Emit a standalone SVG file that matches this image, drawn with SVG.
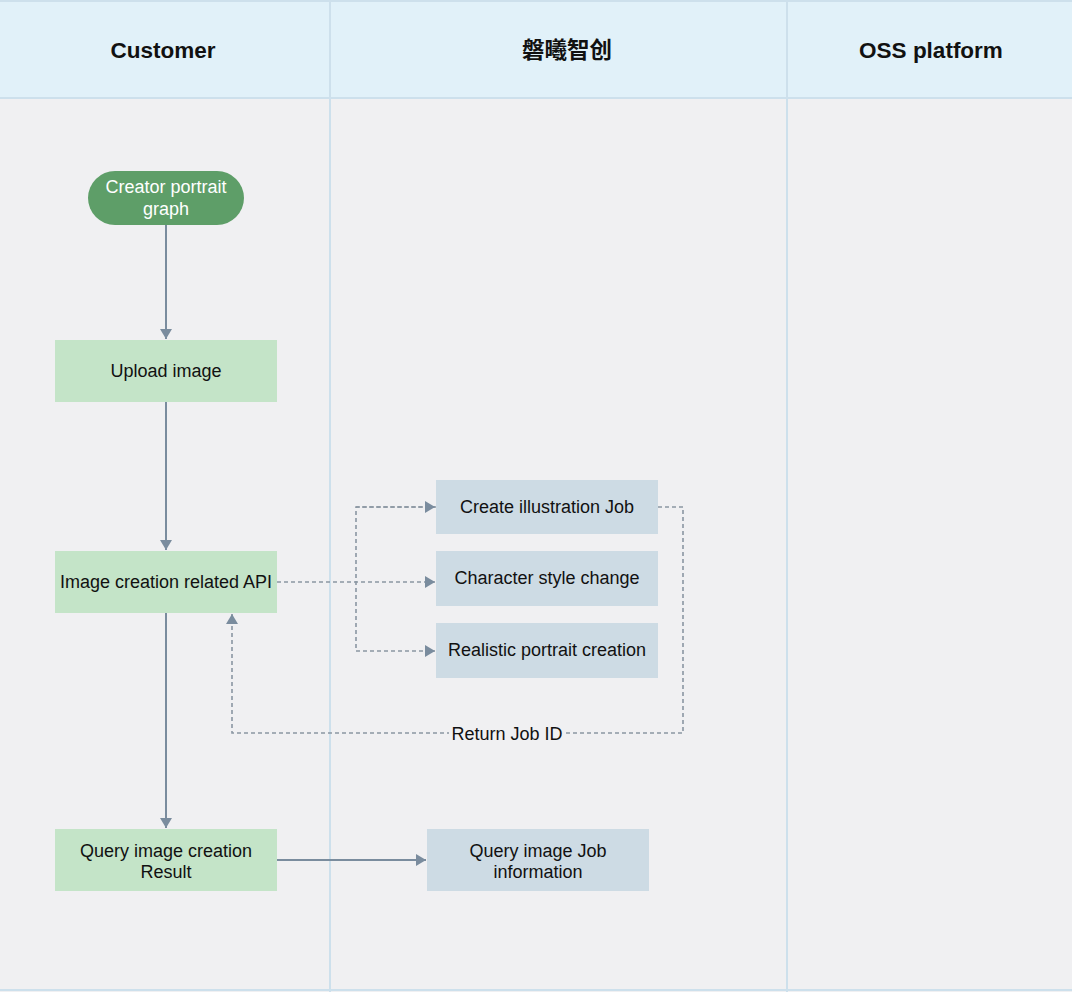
<svg xmlns="http://www.w3.org/2000/svg" width="1072" height="992" viewBox="0 0 1072 992">
<defs>
<style>
.lane{fill:#f0f0f2}
.hdr{fill:#e1f1f9}
.div{stroke:#cde0ec;stroke-width:2;fill:none}
.ht{font-family:"Liberation Sans",Arial,"Noto Sans CJK SC",sans-serif;font-size:22.5px;font-weight:bold;fill:#111;text-anchor:middle}
.t{font-family:"Liberation Sans",Arial,sans-serif;font-size:18px;fill:#111;text-anchor:middle}
.tw{fill:#fff}
.g{fill:#c4e4c8}
.b{fill:#cddbe4}
.s{stroke:#7a8c9e;stroke-width:2;fill:none}
.d{stroke:#8a96a2;stroke-width:1.6;fill:none;stroke-dasharray:4 3}
</style>
<marker id="ah" viewBox="0 0 10 10" refX="10" refY="5" markerWidth="10" markerHeight="12" markerUnits="userSpaceOnUse" orient="auto" preserveAspectRatio="none">
<path d="M0,0 L10,5 L0,10 z" fill="#7a8c9e"/>
</marker>
</defs>
<rect class="lane" x="0" y="0" width="1072" height="992"/>
<rect class="hdr" x="0" y="0" width="1072" height="98"/>
<line class="div" x1="0" y1="98" x2="1072" y2="98"/>
<line class="div" x1="0" y1="1" x2="1072" y2="1"/>
<line class="div" x1="0" y1="990" x2="1072" y2="990"/>
<line class="div" x1="330" y1="0" x2="330" y2="992"/>
<line class="div" x1="787" y1="0" x2="787" y2="992"/>
<g id="lane-headers">
<text class="ht" x="163" y="58">Customer</text>
<text class="ht" x="567" y="58">磐曦智创</text>
<text class="ht" x="931" y="58">OSS platform</text>
</g>
<g id="connectors">
<line class="s" x1="166" y1="225" x2="166" y2="339" marker-end="url(#ah)"/>
<line class="s" x1="166" y1="402" x2="166" y2="550" marker-end="url(#ah)"/>
<line class="s" x1="166" y1="613" x2="166" y2="828" marker-end="url(#ah)"/>
<line class="s" x1="277" y1="860" x2="426" y2="860" marker-end="url(#ah)"/>
<line class="d" x1="277" y1="582" x2="435" y2="582" marker-end="url(#ah)"/>
<polyline class="d" points="436,507 356,507 356,651 435,651" marker-end="url(#ah)"/>
<line class="d" x1="356" y1="507" x2="435" y2="507" marker-end="url(#ah)"/>
<polyline class="d" points="658,507 683,507 683,733 232,733 232,614" marker-end="url(#ah)"/>
<rect x="449" y="722" width="116" height="22" fill="#f0f0f2"/>
<text class="t" x="507" y="740">Return Job ID</text>
</g>
<g id="n-creator">
<rect x="88" y="171" width="156" height="54" rx="27" fill="#5e9e68"/>
<text class="t tw" x="166" y="193">Creator portrait</text>
<text class="t tw" x="166" y="215">graph</text>
</g>
<g id="n-upload">
<rect class="g" x="55" y="340" width="222" height="62"/>
<text class="t" x="166" y="377">Upload image</text>
</g>
<g id="n-api">
<rect class="g" x="55" y="551" width="222" height="62"/>
<text class="t" x="166" y="588">Image creation related API</text>
</g>
<g id="n-query">
<rect class="g" x="55" y="829" width="222" height="62"/>
<text class="t" x="166" y="857">Query image creation</text>
<text class="t" x="166" y="878">Result</text>
</g>
<g id="n-illus">
<rect class="b" x="436" y="480" width="222" height="54"/>
<text class="t" x="547" y="513">Create illustration Job</text>
</g>
<g id="n-style">
<rect class="b" x="436" y="551" width="222" height="55"/>
<text class="t" x="547" y="584">Character style change</text>
</g>
<g id="n-real">
<rect class="b" x="436" y="623" width="222" height="55"/>
<text class="t" x="547" y="656">Realistic portrait creation</text>
</g>
<g id="n-jobinfo">
<rect class="b" x="427" y="829" width="222" height="62"/>
<text class="t" x="538" y="857">Query image Job</text>
<text class="t" x="538" y="878">information</text>
</g>
</svg>
